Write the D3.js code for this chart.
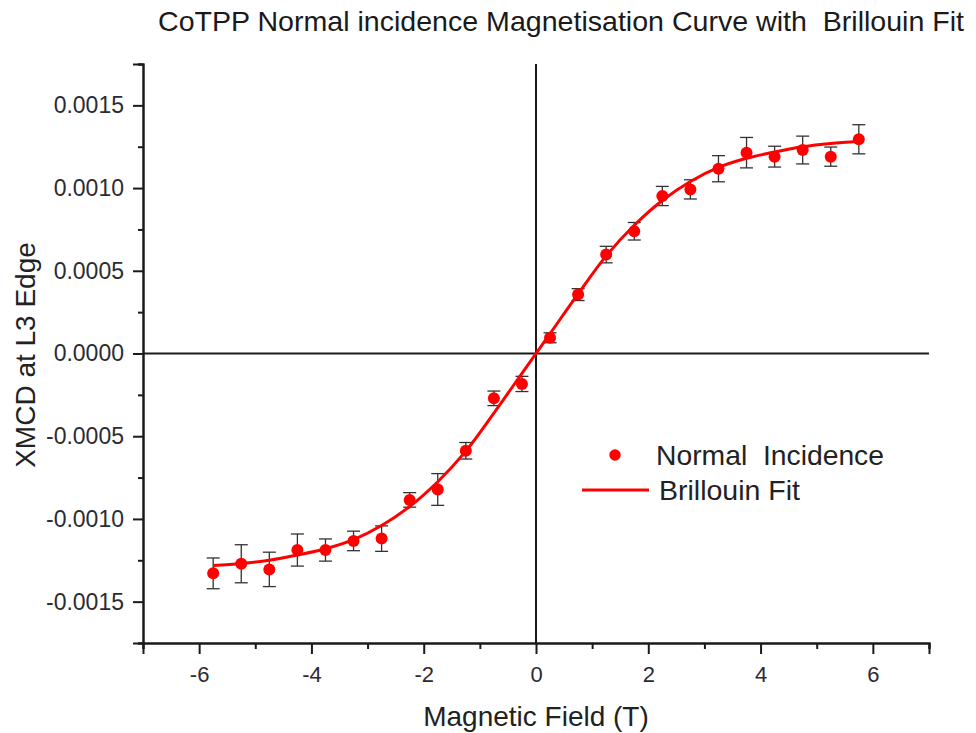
<!DOCTYPE html>
<html>
<head>
<meta charset="utf-8">
<script src="https://cdn.jsdelivr.net/npm/d3@7/dist/d3.min.js"></script>
<style>
  html, body { margin: 0; padding: 0; background: #fff; }
  svg { display: block; font-family: "Liberation Sans", Arial, sans-serif; }
</style>
</head>
<body>
<svg id="chart" width="976" height="733"></svg>
<script>
// ---- data ----
const fieldValues = [-5.75, -5.25, -4.75, -4.25, -3.75, -3.25, -2.75, -2.25, -1.75, -1.25, -0.75, -0.25,
                      0.25, 0.75, 1.25, 1.75, 2.25, 2.75, 3.25, 3.75, 4.25, 4.75, 5.25, 5.75];
const xmcdValues = [-0.001329, -0.001271, -0.001305, -0.001188, -0.001188, -0.001133, -0.001119, -0.000885,
                    -0.000822, -0.000588, -0.000271, -0.000184,
                     0.000095, 0.000356, 0.000598, 0.000739, 0.000952, 0.000992, 0.001117, 0.001214,
                     0.001190, 0.001230, 0.001190, 0.001295];
const xmcdErrors = [0.000093, 0.000115, 0.000104, 0.000097, 0.000067, 0.000059, 0.000077, 0.000044,
                    0.000096, 0.000050, 0.000044, 0.000046,
                    0.000030, 0.000036, 0.000050, 0.000053, 0.000058, 0.000058, 0.000079, 0.000092,
                    0.000063, 0.000084, 0.000058, 0.000088];
const fitField  = [-5.75, -5.25, -4.75, -4.25, -3.75, -3.25, -2.75, -2.25, -1.75, -1.25, -0.75, -0.25, 0,
                    0.25, 0.75, 1.25, 1.75, 2.25, 2.75, 3.25, 3.75, 4.25, 4.75, 5.25, 5.75];
const fitValues = [-0.001282, -0.001270, -0.001250, -0.001218, -0.001180, -0.001125, -0.001040, -0.000925,
                   -0.000775, -0.000590, -0.000360, -0.000120, 0,
                    0.000120, 0.000360, 0.000590, 0.000775, 0.000925, 0.001040, 0.001125, 0.001180,
                    0.001218, 0.001250, 0.001270, 0.001282];
const xMajorTicks = [-6, -4, -2, 0, 2, 4, 6];
const xMinorTicks = [-7, -5, -3, -1, 1, 3, 5, 7];
const yMajorTicks = [-0.0015, -0.0010, -0.0005, 0, 0.0005, 0.0010, 0.0015];
const yMinorTicks = [-0.00175, -0.00125, -0.00075, -0.00025, 0.00025, 0.00075, 0.00125, 0.00175];
const titleText = "CoTPP Normal incidence Magnetisation Curve with  Brillouin Fit";
const xTitle = "Magnetic Field (T)";
const yTitle = "XMCD at L3 Edge";
const legendLabels = ["Normal  Incidence", "Brillouin Fit"];

// ---- layout ----
const svg = d3.select("#chart");
const plotL = 143, plotR = 929, plotT = 64, plotB = 643;
const x = d3.scaleLinear().domain([-7, 7]).range([plotL, plotR]);
const y = d3.scaleLinear().domain([-0.00175, 0.00175]).range([plotB, plotT]);
const red = "#ff0000";
const ink = "#1a1a1a";
const textInk = "#222";

// title
svg.append("text")
  .attr("x", 158).attr("y", 31)
  .attr("font-size", 28).attr("fill", ink)
  .attr("textLength", 806).attr("lengthAdjust", "spacingAndGlyphs")
  .style("white-space", "pre")
  .text(titleText);

// axes
const fmtY = d => d.toFixed(4);
const yAxis = d3.axisLeft(y).tickValues(yMajorTicks).tickFormat(fmtY).tickSize(10).tickPadding(9);
const yAxisMinor = d3.axisLeft(y).tickValues(yMinorTicks).tickFormat("").tickSize(5);
const xAxis = d3.axisBottom(x).tickValues(xMajorTicks).tickFormat(d3.format("d")).tickSize(11).tickPadding(12);
const xAxisMinor = d3.axisBottom(x).tickValues(xMinorTicks).tickFormat("").tickSize(6);

function styleAxis(g, size) {
  g.select(".domain").attr("stroke", ink).attr("stroke-width", 2);
  g.selectAll(".tick line").attr("stroke", ink).attr("stroke-width", 2);
  g.selectAll(".tick text").attr("fill", "#2b2b33")
    .attr("font-family", "\"Liberation Sans\", Arial, sans-serif").attr("font-size", size);
}
svg.append("g").attr("transform", `translate(${plotL},0)`).call(yAxisMinor).call(styleAxis, 23);
svg.append("g").attr("transform", `translate(${plotL},0)`).call(yAxis).call(styleAxis, 23);
svg.append("g").attr("transform", `translate(0,${plotB})`).call(xAxisMinor).call(styleAxis, 22);
svg.append("g").attr("transform", `translate(0,${plotB})`).call(xAxis).call(styleAxis, 22);
// use ASCII hyphen-minus for tick labels like the reference
svg.selectAll(".tick text").text(function() { return d3.select(this).text().replace("\u2212", "-"); });

// zero lines
svg.append("line")
  .attr("x1", plotL).attr("x2", plotR).attr("y1", y(0)).attr("y2", y(0))
  .attr("stroke", ink).attr("stroke-width", 2);
svg.append("line")
  .attr("x1", x(0)).attr("x2", x(0)).attr("y1", plotT).attr("y2", plotB)
  .attr("stroke", ink).attr("stroke-width", 2);

// axis titles
svg.append("text")
  .attr("x", x(0)).attr("y", 726).attr("text-anchor", "middle")
  .attr("font-size", 28).attr("fill", textInk)
  .text(xTitle);
svg.append("text")
  .attr("transform", `translate(35,355) rotate(-90)`)
  .attr("text-anchor", "middle")
  .attr("font-size", 28).attr("fill", textInk)
  .text(yTitle);

// data
const points = fieldValues.map((f, i) => ({ f, v: xmcdValues[i], e: xmcdErrors[i] }));
const fit = fitField.map((f, i) => ({ f, v: fitValues[i] }));

// error bars
const eb = svg.append("g").attr("stroke", "#333").attr("stroke-width", 1.3);
points.forEach(p => {
  const cx = x(p.f), y1 = y(p.v + p.e), y2 = y(p.v - p.e);
  eb.append("line").attr("x1", cx).attr("x2", cx).attr("y1", y1).attr("y2", y2);
  eb.append("line").attr("x1", cx - 6.5).attr("x2", cx + 6.5).attr("y1", y1).attr("y2", y1);
  eb.append("line").attr("x1", cx - 6.5).attr("x2", cx + 6.5).attr("y1", y2).attr("y2", y2);
});

// fit line
svg.append("path")
  .datum(fit)
  .attr("fill", "none").attr("stroke", red).attr("stroke-width", 3)
  .attr("d", d3.line().x(d => x(d.f)).y(d => y(d.v)).curve(d3.curveCatmullRom));

// markers
svg.append("g").selectAll("circle").data(points).join("circle")
  .attr("cx", d => x(d.f)).attr("cy", d => y(d.v)).attr("r", 6)
  .attr("fill", red);

// legend
const lg = svg.append("g");
lg.append("circle").attr("cx", 615).attr("cy", 455).attr("r", 5.7).attr("fill", red);
lg.append("text").attr("x", 656).attr("y", 464.5).attr("font-size", 28).attr("fill", textInk)
  .attr("textLength", 228).attr("lengthAdjust", "spacingAndGlyphs")
  .style("white-space", "pre").text(legendLabels[0]);
lg.append("line").attr("x1", 582).attr("x2", 649).attr("y1", 490).attr("y2", 490)
  .attr("stroke", red).attr("stroke-width", 3);
lg.append("text").attr("x", 659).attr("y", 499.5).attr("font-size", 28).attr("fill", textInk)
  .attr("textLength", 141).attr("lengthAdjust", "spacingAndGlyphs")
  .text(legendLabels[1]);
</script>
</body>
</html>
